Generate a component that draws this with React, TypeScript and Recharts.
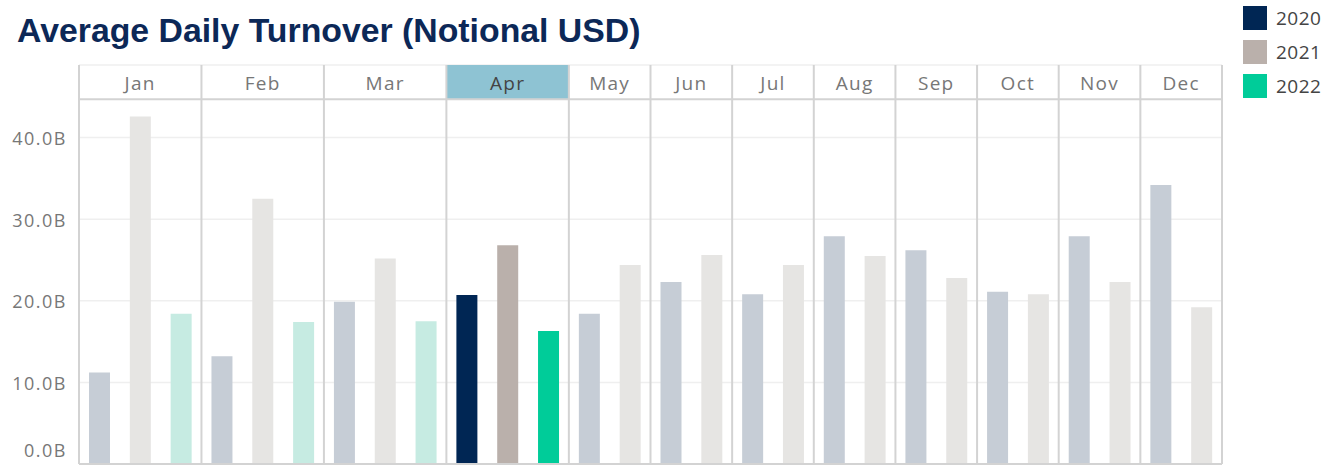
import React from "react";
import {
  BarChart,
  Bar,
  Cell,
  XAxis,
  YAxis,
  CartesianGrid,
  ReferenceArea,
  ReferenceLine,
} from "recharts";

/* =======================
   Data
======================= */
const months = ["Jan", "Feb", "Mar", "Apr", "May", "Jun", "Jul", "Aug", "Sep", "Oct", "Nov", "Dec"];
const years = ["2020", "2021", "2022"];

// average daily turnover, billions USD
const turnover2020 = [11.2, 13.2, 19.9, 20.7, 18.4, 22.3, 20.8, 27.9, 26.2, 21.1, 27.9, 34.2];
const turnover2021 = [42.6, 32.5, 25.2, 26.8, 24.4, 25.6, 24.4, 25.5, 22.8, 20.8, 22.3, 19.2];
const turnover2022 = [18.4, 17.4, 17.5, 16.3];

const yTicks = [0, 10, 20, 30, 40];
const highlightMonth = "Apr";

/* =======================
   Styling
======================= */
const strongColors: Record<string, string> = {
  "2020": "#002654",
  "2021": "#bab0ab",
  "2022": "#00cc99",
};
const fadedColors: Record<string, string> = {
  "2020": "#c6cdd6",
  "2021": "#e6e5e3",
  "2022": "#c6ebe2",
};

const Y_MAX = 48.9; // top of the month header band
const HEADER_FROM = 44.7; // bottom of the month header band
const FONT = "'Open Sans', 'Noto Sans', sans-serif";
const LINE = "#d3d3d3";

/* ---------- flatten to one row per month/year bar ---------- */
const seriesByYear: Record<string, number[]> = {
  "2020": turnover2020,
  "2021": turnover2021,
  "2022": turnover2022,
};

const rows: { key: string; month: string; year: string; value: number }[] = [];
const spans: { month: string; first: string; last: string }[] = [];
months.forEach((m, i) => {
  const start = rows.length;
  years.forEach((y) => {
    const v = seriesByYear[y][i];
    if (v !== undefined) rows.push({ key: `${m}-${y}`, month: m, year: y, value: v });
  });
  spans.push({ month: m, first: rows[start].key, last: rows[rows.length - 1].key });
});

/* ---------- y tick: bottom label sits above the baseline, like Tableau ---------- */
const YTick = (props: any) => {
  const { x, y, payload } = props;
  const v = payload.value as number;
  return (
    <text
      x={x}
      y={v === 0 ? y - 13 : y + 1}
      dy="0.355em"
      textAnchor="end"
      fill="#777"
      fontSize={18}
      fontFamily={FONT}
      style={{ letterSpacing: 1.5 }}
    >
      {`${v.toFixed(1)}B`}
    </text>
  );
};

/* =======================
   Component
======================= */
export default function App() {
  return (
    <div
      style={{
        position: "absolute",
        left: 0,
        top: 0,
        width: 1335,
        height: 468,
        background: "#fff",
        fontFamily: FONT,
      }}
    >
      {/* ---------- Title ---------- */}
      <div
        style={{
          position: "absolute",
          left: 17,
          top: 13,
          fontFamily: "'Liberation Sans', Arial, sans-serif",
          fontWeight: 700,
          fontSize: 33.8,
          lineHeight: "34px",
          color: "#0c2857",
          whiteSpace: "nowrap",
        }}
      >
        Average Daily Turnover (Notional USD)
      </div>

      {/* ---------- Legend ---------- */}
      <div style={{ position: "absolute", left: 1243, top: 6 }}>
        {years.map((y) => (
          <div
            key={y}
            style={{ display: "flex", alignItems: "center", height: 24, marginBottom: 10 }}
          >
            <div style={{ width: 24, height: 24, background: strongColors[y] }} />
            <span style={{ marginLeft: 9, fontSize: 19, color: "#444", letterSpacing: 0.5 }}>
              {y}
            </span>
          </div>
        ))}
      </div>

      <BarChart
        width={1335}
        height={468}
        data={rows}
        margin={{ top: 65, right: 113, bottom: 4, left: 0 }}
        barCategoryGap={0}
      >
        <CartesianGrid vertical={false} stroke="#efefef" strokeWidth={1.5} />
        <XAxis dataKey="key" hide />
        <YAxis
          domain={[0, Y_MAX]}
          ticks={yTicks}
          interval={0}
          allowDataOverflow
          width={79}
          axisLine={false}
          tickLine={false}
          tickSize={0}
          tickMargin={12}
          tick={<YTick />}
        />

        {/* month header band */}
        {spans.map((s) => (
          <ReferenceArea
            key={s.month}
            x1={s.first}
            x2={s.last}
            y1={HEADER_FROM}
            y2={Y_MAX}
            fill={s.month === highlightMonth ? "#8ec3d3" : "#ffffff"}
            fillOpacity={s.month === highlightMonth ? 1 : 0}
            stroke="none"
            ifOverflow="visible"
            label={{
              value: s.month,
              position: "center",
              fill: s.month === highlightMonth ? "#444" : "#777",
              fontSize: 19,
              fontFamily: FONT,
              dy: 1,
              style: { letterSpacing: 1.3 },
            }}
          />
        ))}

        <Bar dataKey="value" barSize={21} isAnimationActive={false}>
          {rows.map((r) => (
            <Cell
              key={r.key}
              fill={r.month === highlightMonth ? strongColors[r.year] : fadedColors[r.year]}
            />
          ))}
        </Bar>

        {/* header underline and baseline */}
        <ReferenceLine y={HEADER_FROM} stroke={LINE} strokeWidth={2} ifOverflow="visible" />
        <ReferenceLine y={0} stroke={LINE} strokeWidth={2} ifOverflow="visible" />

        {/* month separators */}
        {spans.map((s) => (
          <ReferenceLine
            key={`sep-${s.month}`}
            x={s.first}
            position="start"
            stroke={LINE}
            strokeWidth={2}
            ifOverflow="visible"
          />
        ))}
        <ReferenceLine
          x={rows[rows.length - 1].key}
          position="end"
          stroke={LINE}
          strokeWidth={2}
          ifOverflow="visible"
        />
      </BarChart>
    </div>
  );
}
